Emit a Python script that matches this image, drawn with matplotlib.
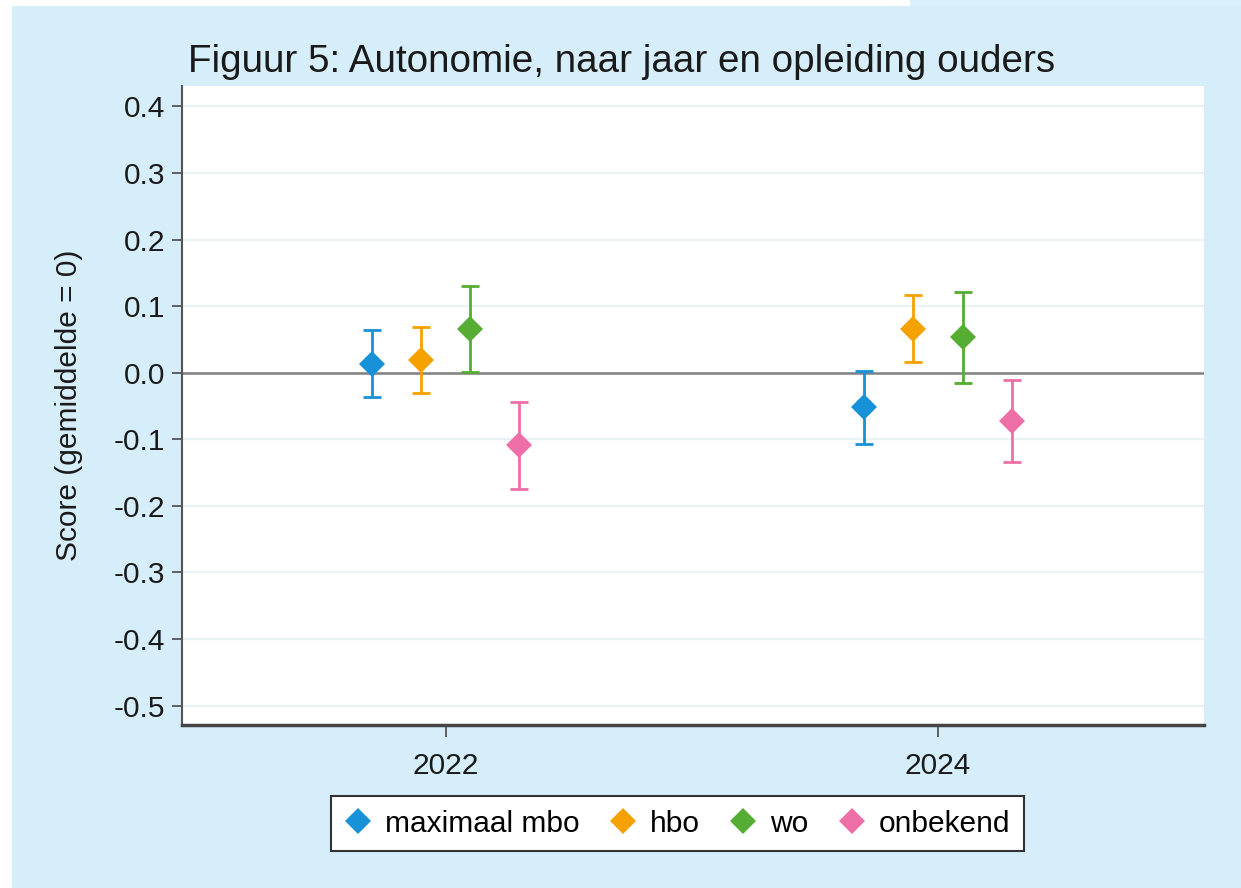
import matplotlib
matplotlib.use("Agg")
import matplotlib.pyplot as plt
from matplotlib.patches import Rectangle
from matplotlib.lines import Line2D

plt.rcParams['font.family'] = ['Liberation Sans', 'DejaVu Sans']
plt.rcParams['axes.unicode_minus'] = False

# ---- data ----
years = [2022, 2024]
groups = ["maximaal mbo", "hbo", "wo", "onbekend"]
offsets = [-0.3, -0.1, 0.1, 0.3]
colors = ["#1791d8", "#f5a100", "#55ad33", "#ee6fa8"]
# estimates per group: [2022, 2024]
est_mbo = [0.013, -0.052]
est_hbo = [0.019, 0.066]
est_wo = [0.066, 0.053]
est_onb = [-0.108, -0.073]
lo_mbo = [-0.037, -0.107]
lo_hbo = [-0.031, 0.016]
lo_wo = [0.001, -0.016]
lo_onb = [-0.174, -0.134]
hi_mbo = [0.064, 0.003]
hi_hbo = [0.068, 0.116]
hi_wo = [0.130, 0.121]
hi_onb = [-0.044, -0.011]
estimates = [est_mbo, est_hbo, est_wo, est_onb]
lowers = [lo_mbo, lo_hbo, lo_wo, lo_onb]
uppers = [hi_mbo, hi_hbo, hi_wo, hi_onb]
ytick_vals = [0.4, 0.3, 0.2, 0.1, 0.0, -0.1, -0.2, -0.3, -0.4, -0.5]
ytick_labels = ["0.4", "0.3", "0.2", "0.1", "0.0", "-0.1", "-0.2", "-0.3", "-0.4", "-0.5"]
xtick_labels = ["2022", "2024"]
title = "Figuur 5: Autonomie, naar jaar en opleiding ouders"
ylabel = "Score (gemiddelde = 0)"

W, H = 1241, 888
fig = plt.figure(figsize=(W / 100, H / 100), dpi=100, facecolor="white")
bg = "#d6eefa"
fig.patches.append(Rectangle((12 / W, 0), 1 - 12 / W, 1 - 6 / H, transform=fig.transFigure,
                             facecolor=bg, edgecolor="none", zorder=-10))
fig.patches.append(Rectangle((910 / W, 1 - 6 / H), 1 - 910 / W, 6 / H, transform=fig.transFigure,
                             facecolor="#d9f0fb", edgecolor="none", zorder=-10))

ax = fig.add_axes([182 / W, 1 - 725 / H, (1204 - 182) / W, (725 - 86) / H])
ax.set_facecolor("white")

for g, off, col, est, lo, hi in zip(groups, offsets, colors, estimates, lowers, uppers):
    xs = [y + off for y in years]
    yerr = [[e - l for e, l in zip(est, lo)], [h - e for e, h in zip(est, hi)]]
    ax.errorbar(xs, est, yerr=yerr, fmt="none", ecolor=col, elinewidth=2,
                capsize=6.3, capthick=2, zorder=3)
    ax.plot(xs, est, linestyle="none", marker="D", markersize=13.5, color=col,
            markeredgewidth=0, zorder=4)

ax.set_xlim(2020.93, 2025.08)
ax.set_ylim(-0.529, 0.4305)
ax.set_yticks(ytick_vals)
ax.set_yticklabels(ytick_labels)
ax.set_xticks(years)
ax.set_xticklabels(xtick_labels)

for v in ytick_vals:
    if v != 0.0:
        ax.axhline(v, color="#eaf2f3", linewidth=1.6, zorder=1)
ax.axhline(0.0, color="#7f7f7f", linewidth=1.8, zorder=2)

for s in ["top", "right"]:
    ax.spines[s].set_visible(False)
ax.spines["left"].set_color("#555555")
ax.spines["left"].set_linewidth(1.5)
ax.spines["bottom"].set_color("#444444")
ax.spines["bottom"].set_linewidth(2.5)

ax.tick_params(axis="y", direction="out", length=7, width=1.3, color="#555555",
               labelsize=21.5, pad=5, labelcolor="#1a1a1a")
ax.tick_params(axis="x", direction="out", length=8.5, width=1.3, color="#555555",
               labelsize=21.5, pad=11, labelcolor="#1a1a1a")

ax.set_ylabel(ylabel, fontsize=21.5, color="#1a1a1a", labelpad=22)

fig.text(622 / W, 1 - 62 / H, title, fontsize=27.8, ha="center", va="center", color="#1a1a1a")

handles = [Line2D([], [], linestyle="none", marker="D", markersize=13.5, color=c,
                  markeredgewidth=0) for c in colors]
leg = fig.legend(handles, groups, loc="center", bbox_to_anchor=(677.5 / W, 1 - 823.5 / H),
                 ncol=4, fontsize=21.5, frameon=True, fancybox=False, framealpha=1,
                 edgecolor="#333333", handlelength=0.9, handletextpad=0.45,
                 columnspacing=1.0, borderpad=0.45)
leg.get_frame().set_linewidth(1.5)

fig.savefig("out.png", dpi=100, facecolor=fig.get_facecolor())
